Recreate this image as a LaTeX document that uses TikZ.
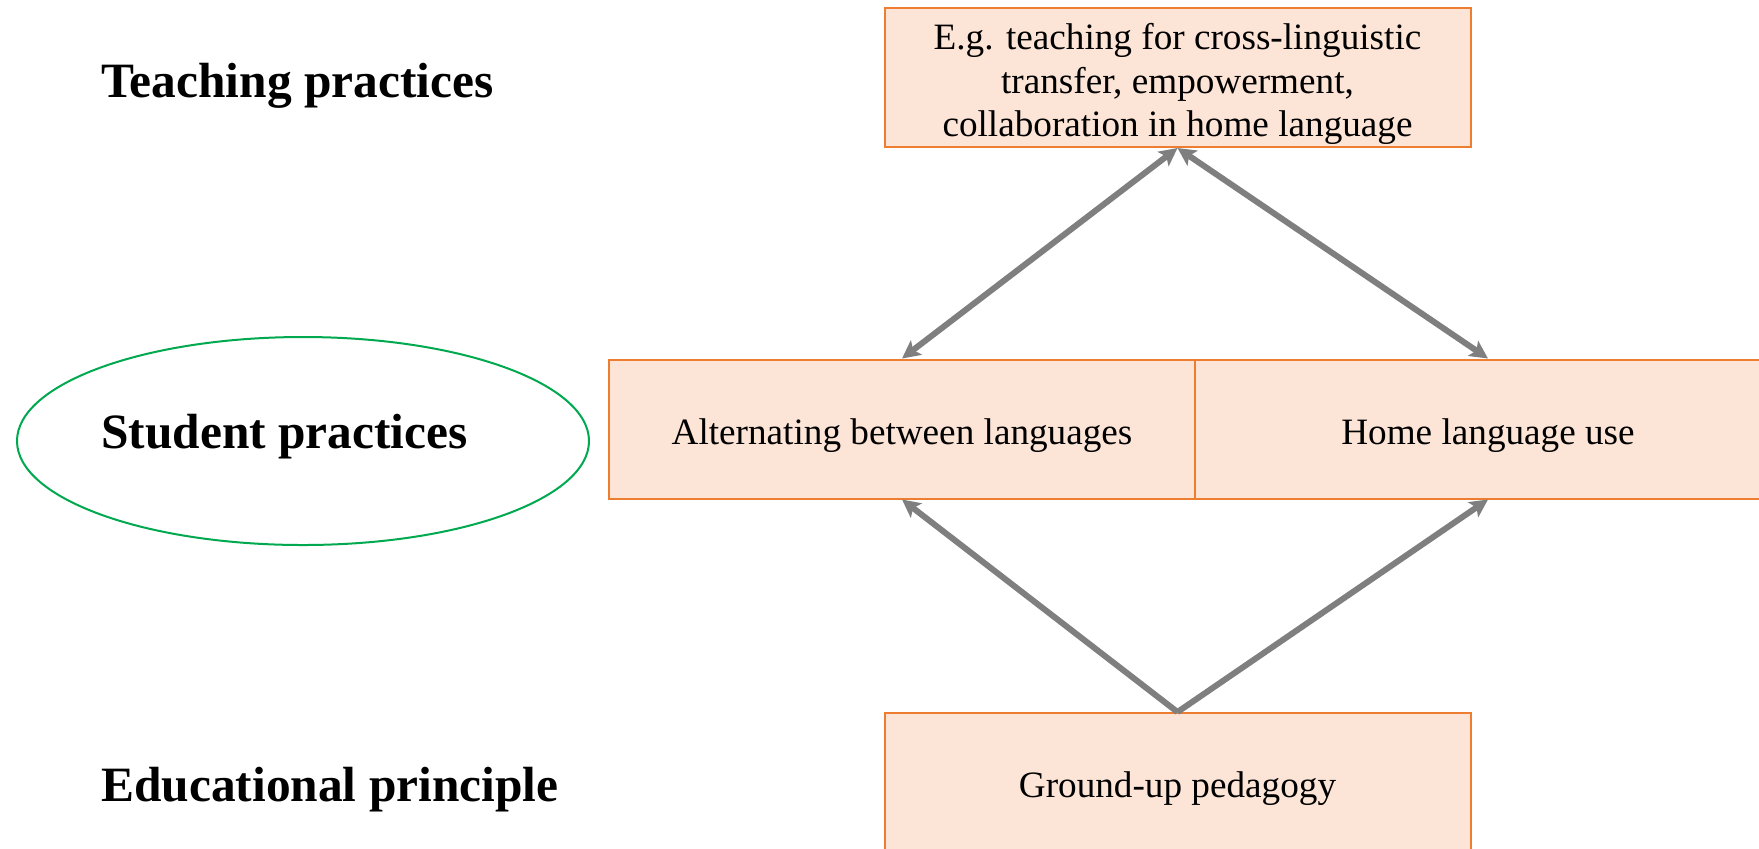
\documentclass[tikz,border=0pt]{standalone}
\usepackage{fontspec}
\setmainfont{Liberation Serif}
\usetikzlibrary{arrows.meta,shapes.geometric}
\definecolor{boxfill}{HTML}{FCE4D6}
\definecolor{boxline}{HTML}{ED7D31}
\definecolor{arrowgray}{HTML}{7F7F7F}
\definecolor{ellgreen}{HTML}{00A94F}
\begin{document}
\begin{tikzpicture}[x=0.5pt,y=-0.5pt,
  pbox/.style={draw=boxline,fill=boxfill,line width=1pt,rectangle,
    minimum width=293pt,minimum height=69.5pt,inner sep=0pt,align=center,
    font=\fontsize{18.6}{21.9}\selectfont},
  oneline/.style={text height=19.5pt,text depth=4.2pt},
  levellabel/.style={anchor=base west,inner sep=0pt,font=\fontsize{24.7}{29}\selectfont\bfseries},
  conn/.style={draw=arrowgray,line width=3pt},
  tip/.style={-{Stealth[length=9pt,width=9pt,inset=2pt]}},
  dtip/.style={{Stealth[length=9pt,width=9pt,inset=2pt]}-{Stealth[length=9pt,width=9pt,inset=2pt]}}]
\useasboundingbox (0,0) rectangle (1759,848);
\node[pbox,text height=63.5pt,text depth=4.2pt] (tb) at (1177.5,77.5) {E.g. teaching for cross-linguistic\\transfer, empowerment,\\collaboration in home language};
\node[pbox,oneline] (ml) at (902,429) {Alternating between languages};
\node[pbox,oneline] (mr) at (1488,429) {Home language use};
\node[pbox,oneline] (bb) at (1177.5,782.5) {Ground-up pedagogy};
\node[draw=ellgreen,line width=1pt,ellipse,minimum width=286pt,minimum height=104pt,inner sep=0pt] (ell) at (303,441) {};
\node[levellabel] (lt) at (101,97) {Teaching practices};
\node[levellabel] (ls) at (101,448) {Student practices};
\node[levellabel] (le) at (101,801) {Educational principle};
\draw[conn,dtip] (tb.south) -- (ml.north);
\draw[conn,dtip] (tb.south) -- (mr.north);
\draw[conn,tip] (bb.north) -- (ml.south);
\draw[conn,tip] (bb.north) -- (mr.south);
\end{tikzpicture}
\end{document}
